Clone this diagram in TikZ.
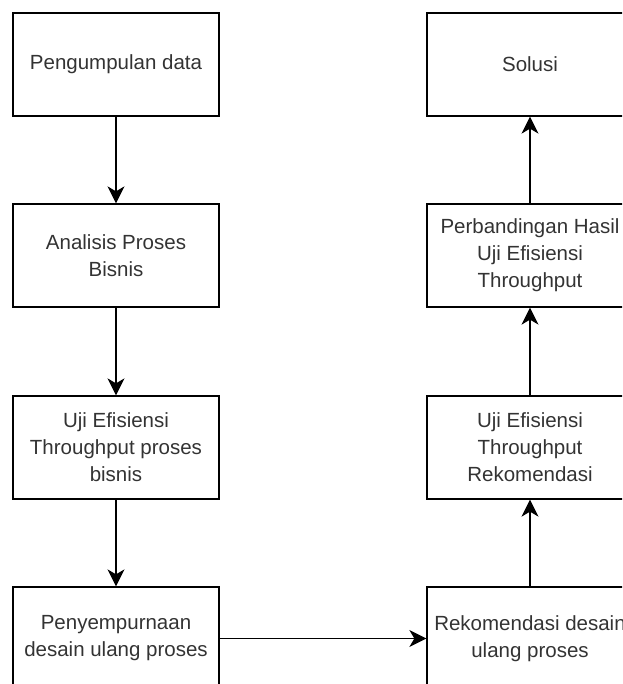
\documentclass[tikz,border=0pt]{standalone}
\usepackage{fontspec}
\setmainfont{Liberation Sans}
\usetikzlibrary{arrows.meta}

\begin{document}
\begin{tikzpicture}[x=1pt, y=-1pt,
  stepbox/.style={draw, line width=1.3, minimum width=206pt, minimum height=103pt, inner sep=0pt, align=center, font=\fontsize{20.5}{27}\selectfont, text=black!80},
  flow/.style={line width=1.3, -{Stealth[length=17pt, width=17pt, inset=5pt]}}]

 \useasboundingbox (0,0) rectangle (622,684);
 \clip (0,0) rectangle (622,684);

 %%%%%%%%%% Left column %%%%%%%%%%
 \node (collect) at (116,64.5) [stepbox] {Pengumpulan data};
 \node (analysis) at (116,255.5) [stepbox] {Analisis Proses\\Bisnis};
 \node (testbiz) at (116,447.5) [stepbox] {Uji Efisiensi\\Throughput proses\\bisnis};
 \node (refine) at (116,638.5) [stepbox] {Penyempurnaan\\desain ulang proses};

 %%%%%%%%%% Right column %%%%%%%%%%
 \node (recom) at (530,638.5) [stepbox] {Rekomendasi desain\\ulang proses};
 \node (testrec) at (530,447.5) [stepbox] {Uji Efisiensi\\Throughput\\Rekomendasi};
 \node (compare) at (530,255.5) [stepbox] {Perbandingan Hasil\\Uji Efisiensi\\Throughput};
 \node (solution) at (530,64.5) [stepbox] {Solusi};

 %%%%%%%%%% Arrows %%%%%%%%%%
 \draw [flow] (collect) -- (analysis) ;
 \draw [flow] (analysis) -- (testbiz) ;
 \draw [flow] (testbiz) -- (refine) ;
 \draw [flow] (refine) -- (recom) ;
 \draw [flow] (recom) -- (testrec) ;
 \draw [flow] (testrec) -- (compare) ;
 \draw [flow] (compare) -- (solution) ;

\end{tikzpicture}
\end{document}
